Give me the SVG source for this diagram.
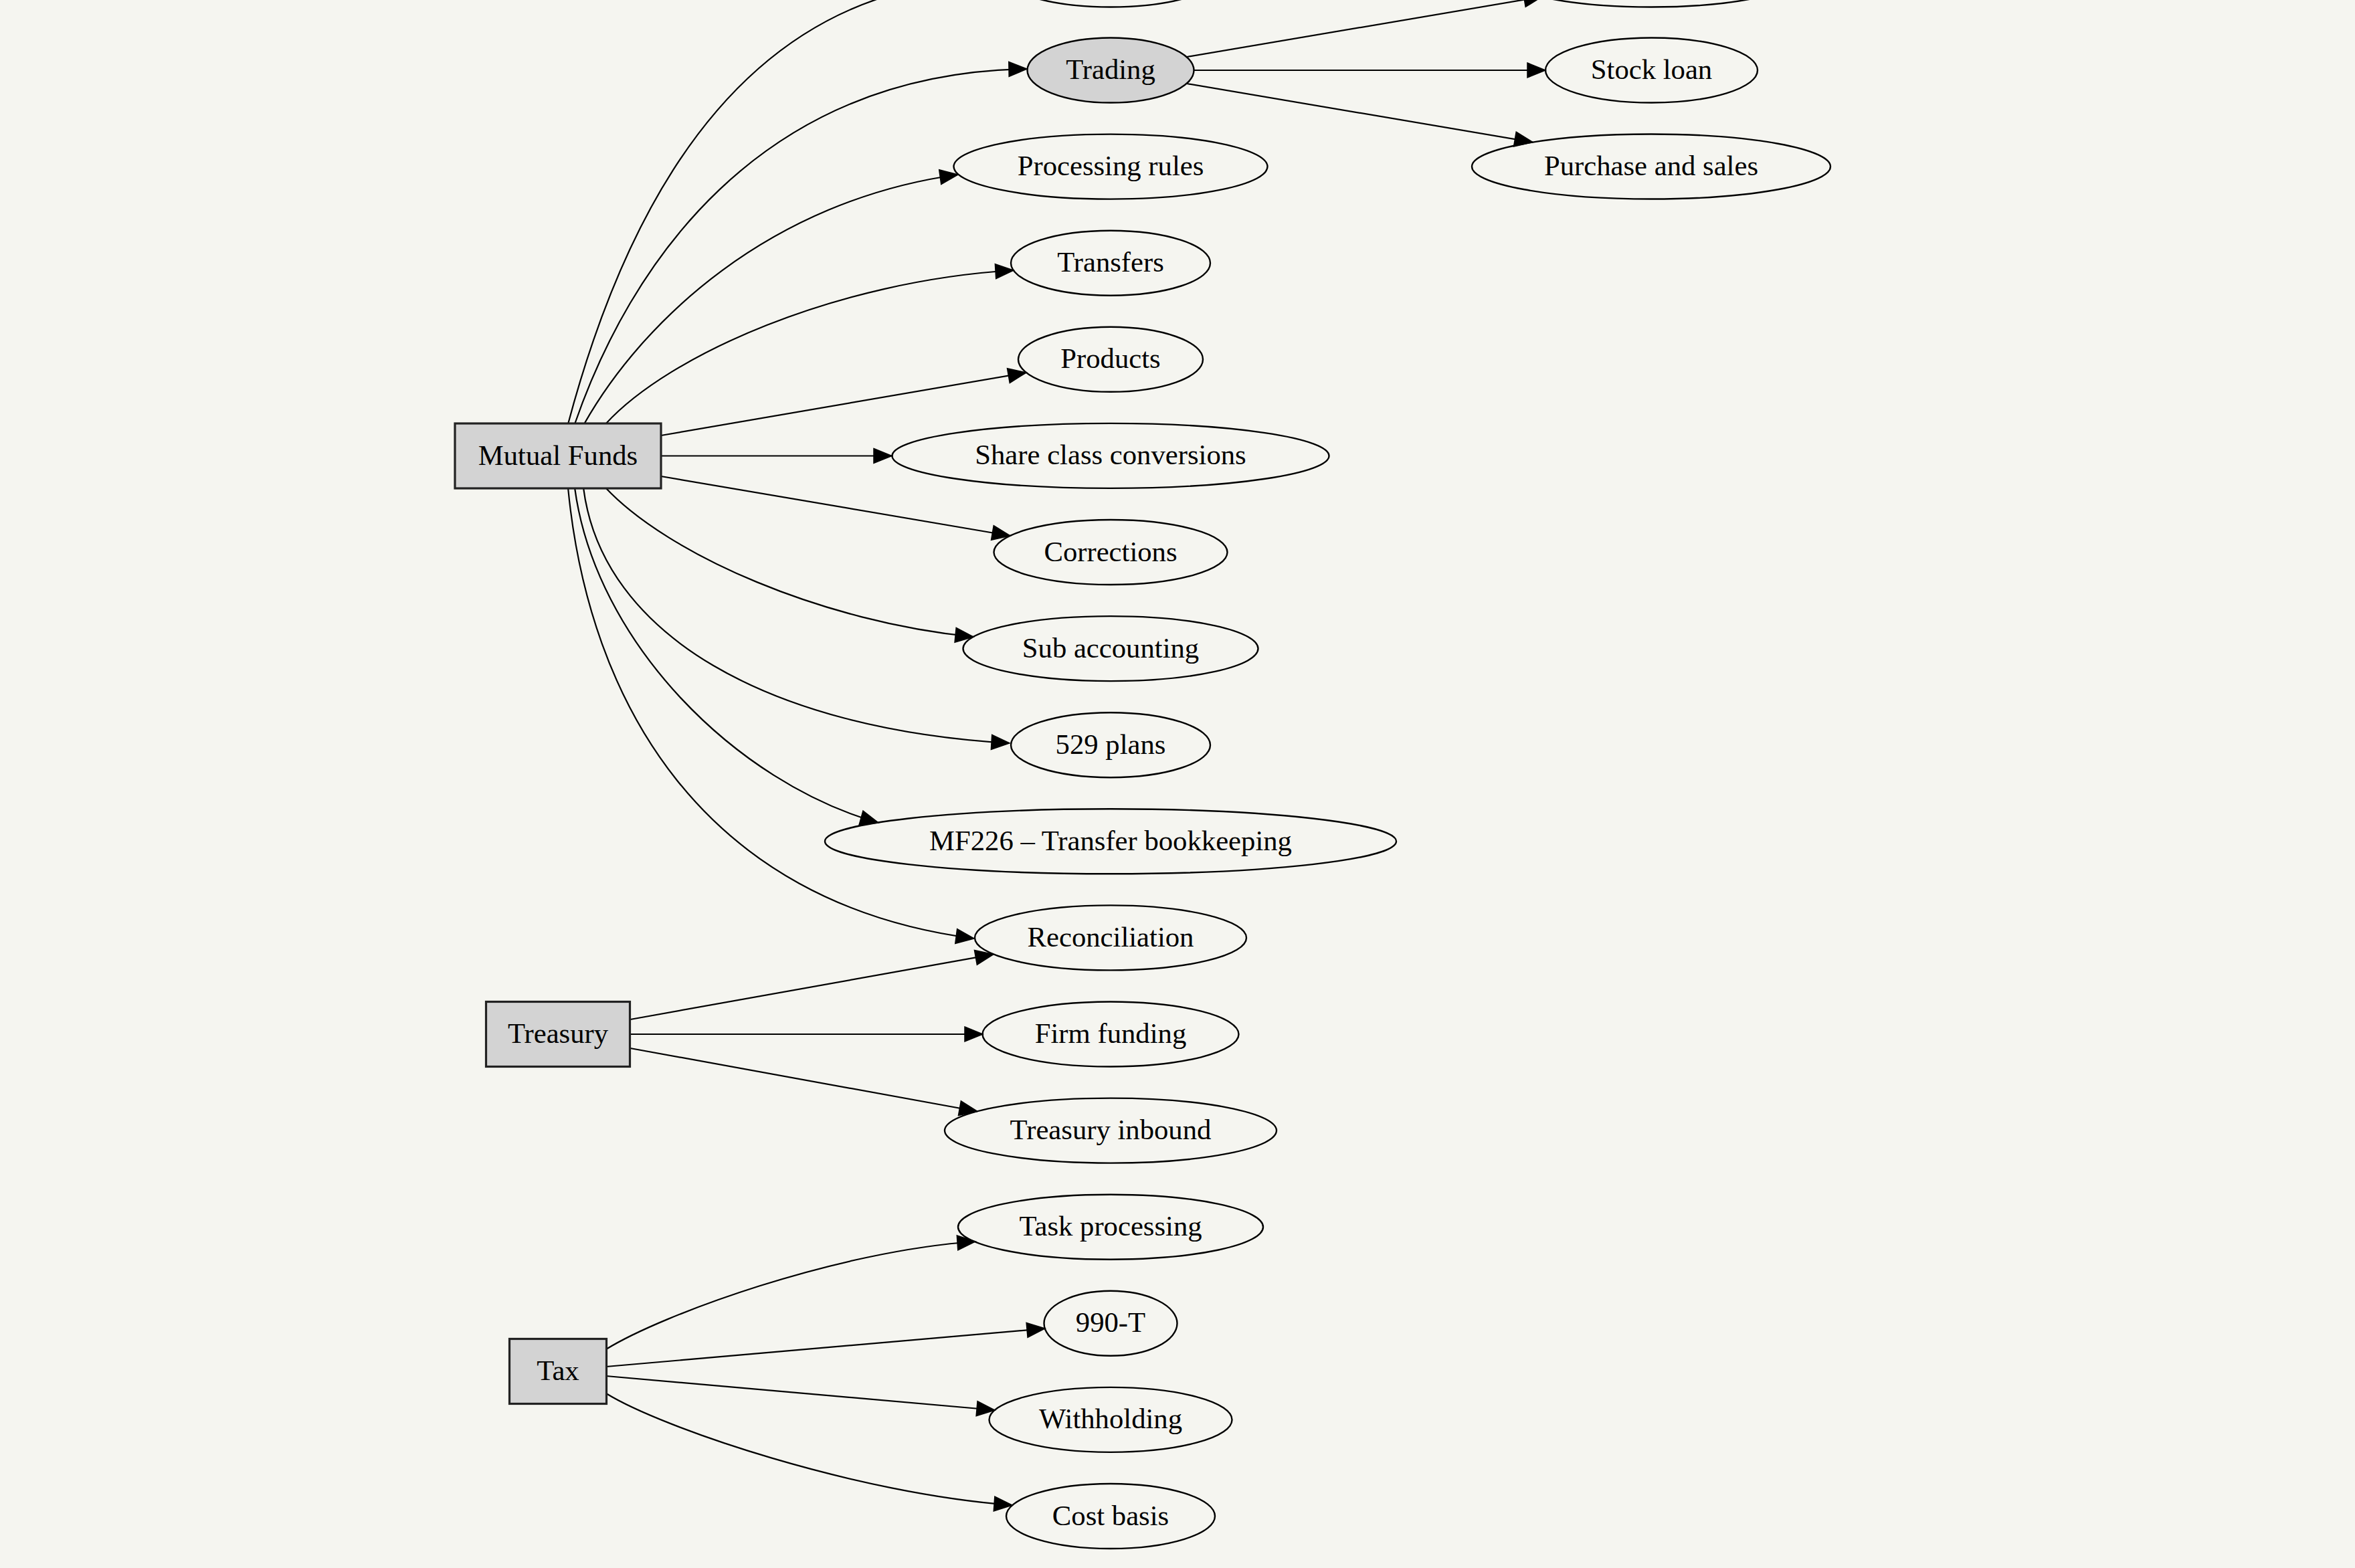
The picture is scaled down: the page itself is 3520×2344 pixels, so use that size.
<svg xmlns="http://www.w3.org/2000/svg" width="3520" height="2344" viewBox="0 0 3520 2344">
<style>
.bg{fill:#f5f5f0}
.n{fill:none;stroke:#000;stroke-width:2.4}
.g{fill:#d3d3d3;stroke:#000;stroke-width:2.4}
.b{fill:#d3d3d3;stroke:#222;stroke-width:3.2}
.t{font-family:"Liberation Serif","Times New Roman",serif;font-size:42.7px;fill:#000;text-anchor:middle}
.e{fill:none;stroke:#000;stroke-width:2.2;marker-end:url(#ah)}
</style>
<defs>
<marker id="ah" markerUnits="userSpaceOnUse" markerWidth="30" markerHeight="24" refX="27" refY="11" orient="auto" overflow="visible">
<path d="M0,0 L27,11 L0,22 z" fill="#000" stroke="#000" stroke-width="1.5"/>
</marker>
</defs>
<rect class="bg" x="0" y="0" width="3520" height="2344"/>
<g id="connectors">
<path class="e" d="M849,634 C930,330 1100,-40 1510,-30"/>
<path class="e" d="M859,634 C940,400 1130,110 1535,103"/>
<path class="e" d="M873,634 C960,480 1150,300 1432,261"/>
<path class="e" d="M905,634 C1000,530 1250,420 1515,404"/>
<path class="e" d="M988,651 L1534,557"/>
<path class="e" d="M988,681.5 L1333,681.5"/>
<path class="e" d="M988,712 L1510,801"/>
<path class="e" d="M905,729 C1000,830 1230,930 1455,952"/>
<path class="e" d="M872,729 C900,950 1150,1090 1509,1111"/>
<path class="e" d="M859,729 C890,960 1100,1170 1313,1230"/>
<path class="e" d="M849,729 C880,1050 1050,1350 1456,1403"/>
<path class="e" d="M942,1524 L1485,1426.6"/>
<path class="e" d="M942,1546 L1469,1546"/>
<path class="e" d="M942,1567 L1461,1661.5"/>
<path class="e" d="M906,2017 C990,1965 1250,1870 1458,1856"/>
<path class="e" d="M906,2043 L1562,1986"/>
<path class="e" d="M906,2057 L1487,2108"/>
<path class="e" d="M906,2083 C990,2135 1280,2233 1513,2250"/>
<path class="e" d="M1774,85 L2305,-5"/>
<path class="e" d="M1784.5,105 L2310,105"/>
<path class="e" d="M1774,125 L2291,212.6"/>
</g>
<g id="node-mutual-funds"><rect class="b" x="680" y="633" width="308" height="97"/><text class="t" x="834" y="694.5">Mutual Funds</text></g>
<g id="node-treasury"><rect class="b" x="726.5" y="1497.5" width="215" height="97"/><text class="t" x="834" y="1559">Treasury</text></g>
<g id="node-tax"><rect class="b" x="761.5" y="2001.5" width="145" height="97"/><text class="t" x="834" y="2063">Tax</text></g>
<g id="node-top-middle"><ellipse class="n" cx="1660" cy="-38" rx="163" ry="48.5"/></g>
<g id="node-top-right"><ellipse class="n" cx="2468" cy="-38" rx="226" ry="48.5"/></g>
<g id="node-trading"><ellipse class="g" cx="1660" cy="105" rx="124.5" ry="48.5"/><text class="t" x="1660" y="118">Trading</text></g>
<g id="node-processing-rules"><ellipse class="n" cx="1660" cy="249.1" rx="234.5" ry="48.5"/><text class="t" x="1660" y="262.1">Processing rules</text></g>
<g id="node-transfers"><ellipse class="n" cx="1660" cy="393.2" rx="149" ry="48.5"/><text class="t" x="1660" y="406.2">Transfers</text></g>
<g id="node-products"><ellipse class="n" cx="1660" cy="537.3" rx="138" ry="48.5"/><text class="t" x="1660" y="550.3">Products</text></g>
<g id="node-share-class"><ellipse class="n" cx="1660" cy="681.4" rx="326.5" ry="48.5"/><text class="t" x="1660" y="694.4">Share class conversions</text></g>
<g id="node-corrections"><ellipse class="n" cx="1660" cy="825.5" rx="174.5" ry="48.5"/><text class="t" x="1660" y="838.5">Corrections</text></g>
<g id="node-sub-accounting"><ellipse class="n" cx="1660" cy="969.6" rx="220.5" ry="48.5"/><text class="t" x="1660" y="982.6">Sub accounting</text></g>
<g id="node-529-plans"><ellipse class="n" cx="1660" cy="1113.7" rx="149" ry="48.5"/><text class="t" x="1660" y="1126.7">529 plans</text></g>
<g id="node-mf226"><ellipse class="n" cx="1660" cy="1257.8" rx="427" ry="48.5"/><text class="t" x="1660" y="1270.8">MF226 – Transfer bookkeeping</text></g>
<g id="node-reconciliation"><ellipse class="n" cx="1660" cy="1401.9" rx="203" ry="48.5"/><text class="t" x="1660" y="1414.9">Reconciliation</text></g>
<g id="node-firm-funding"><ellipse class="n" cx="1660" cy="1546" rx="191.5" ry="48.5"/><text class="t" x="1660" y="1559">Firm funding</text></g>
<g id="node-treasury-inbound"><ellipse class="n" cx="1660" cy="1690.1" rx="248" ry="48.5"/><text class="t" x="1660" y="1703.1">Treasury inbound</text></g>
<g id="node-task-processing"><ellipse class="n" cx="1660" cy="1834.2" rx="228" ry="48.5"/><text class="t" x="1660" y="1847.2">Task processing</text></g>
<g id="node-990t"><ellipse class="n" cx="1660" cy="1978.3" rx="99.5" ry="48.5"/><text class="t" x="1660" y="1991.3">990-T</text></g>
<g id="node-withholding"><ellipse class="n" cx="1660" cy="2122.4" rx="181.5" ry="48.5"/><text class="t" x="1660" y="2135.4">Withholding</text></g>
<g id="node-cost-basis"><ellipse class="n" cx="1660" cy="2266.5" rx="156" ry="48.5"/><text class="t" x="1660" y="2279.5">Cost basis</text></g>
<g id="node-stock-loan"><ellipse class="n" cx="2468.5" cy="105" rx="158.5" ry="48.5"/><text class="t" x="2468.5" y="118">Stock loan</text></g>
<g id="node-purchase-sales"><ellipse class="n" cx="2468" cy="249" rx="268" ry="48.5"/><text class="t" x="2468" y="262">Purchase and sales</text></g>
</svg>
